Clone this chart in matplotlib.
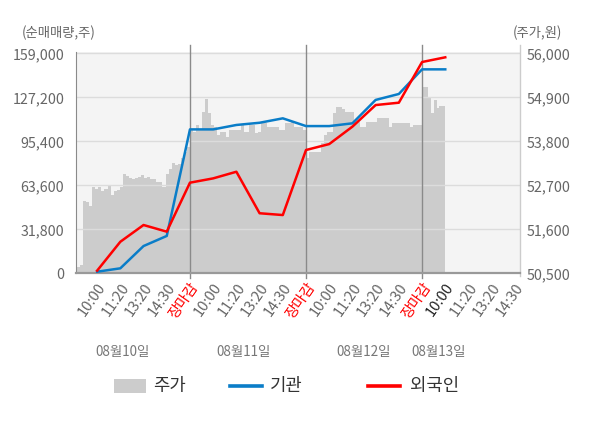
import numpy as np
import matplotlib
matplotlib.use("Agg")
import matplotlib.pyplot as plt
from matplotlib.patches import Rectangle
from matplotlib.lines import Line2D

plt.rcParams['font.family'] = ['Noto Sans CJK KR', 'DejaVu Sans']

# 시간 슬롯 라벨 (4일치)
slot_labels = ['10:00', '11:20', '13:20', '14:30', '장마감'] * 3 + ['10:00', '11:20', '13:20', '14:30']
day_labels = ['08월10일', '08월11일', '08월12일', '08월13일']
day_label_pos = [2.1, 7.3, 12.5, 15.7]

# 순매매량 누적 (주)
inst = [1150, 3600, 19700, 27000, 104000, 104000, 107200, 108800, 112000, 106400,
        106400, 108400, 125300, 129600, 147400, 147400]
foreign = [1900, 22800, 34900, 30100, 65500, 68600, 73400, 43400, 42100, 89100,
           93400, 106000, 121600, 123300, 152700, 156100]

# 주가 (원), 일자별 장중 흐름
price_d1 = [51330, 50665, 50700, 52300, 52290, 52180, 52665, 52620, 52660, 52560,
            52620, 52700, 52470, 52560, 52580, 52660, 52975, 52940, 52880, 52850,
            52880, 52900, 52960, 52880, 52900, 52860, 52850, 52790, 52790, 52665,
            52980, 53100, 53250, 53210, 53230, 53375, 53540, 53665]
price_d2 = [54080, 54040, 54210, 54080, 54540, 54855, 54500, 54210, 54150, 53960,
            54040, 54040, 53900, 54080, 54080, 54080, 54080, 54210, 54040, 54040,
            54210, 54210, 54000, 54040, 54250, 54250, 54165, 54165, 54165, 54165,
            54080, 54080, 54250, 54250, 54290, 54165, 54165, 54165, 54080]
price_d3 = [53375, 53540, 53540, 53540, 53540, 53750, 53960, 54040, 54040, 54500,
            54665, 54665, 54600, 54540, 54540, 54540, 54290, 54290, 54165, 54165,
            54290, 54290, 54290, 54290, 54375, 54375, 54375, 54375, 54165, 54265,
            54265, 54265, 54265, 54265, 54265, 54165, 54210, 54210, 54210]
price_d4 = [55165, 55165, 54915, 54500, 54830, 54625, 54680, 54680]

left_ticks = [0, 31800, 63600, 95400, 127200, 159000]
right_ticks = [50500, 51600, 52700, 53800, 54900, 56000]

fig = plt.figure(figsize=(6, 4.28), dpi=100)
ax2 = fig.add_axes([76 / 600, 1 - 273.3 / 428, 444 / 600, 221.6 / 428])
ax = ax2.twinx()
ax.yaxis.tick_left()
ax2.yaxis.tick_right()
ax.set_zorder(ax2.get_zorder() + 1)
ax.patch.set_visible(False)
ax2.set_facecolor('#f4f4f4')

xlim = (0.09, 19.22)

# 주가 영역
px, py = [], []
for d, vals in enumerate([price_d1, price_d2, price_d3]):
    px.extend(np.linspace(5 * d, 5 * d + 5, len(vals), endpoint=False))
    py.extend(vals)
px.extend(np.linspace(15, 16, len(price_d4), endpoint=False))
py.extend(price_d4)
px.append(16)
py.append(price_d4[-1])
px = np.array(px)
px[0] = xlim[0]
ax2.fill_between(px, py, 50500, step='post', color='#cccccc', lw=0)
ax2.set_ylim(50500, 50500 + 5500 * 221.6 / 220)
ax2.set_yticks(right_ticks)
ax2.set_yticklabels([f'{v:,}' for v in right_ticks])

# 순매매량 선
xs = np.arange(1, len(inst) + 1)
ax.plot(xs, inst, color='#0a7dc8', lw=1.8, zorder=3)
ax.plot(xs, foreign, color='#ff0000', lw=1.8, zorder=4)
ax.set_ylim(0, 159000 * 221.6 / 220)
ax.set_yticks(left_ticks)
ax.set_yticklabels([f'{v:,}' for v in left_ticks])
ax.yaxis.grid(True, color='#dcdcdc', lw=1)
ax.set_axisbelow(True)

for x in [5, 10, 15]:
    ax.axvline(x, ymin=-0.02, ymax=1.03, color='#8a8a8a', lw=1, clip_on=False, zorder=2)
ax.axvline(xlim[1], ymin=-0.01, ymax=1.03, color='#cccccc', lw=1, clip_on=False)

ax.set_xlim(*xlim)
ax2.set_xlim(*xlim)
ax.xaxis.set_visible(True)
ax.xaxis.tick_bottom()
ax.set_xticks(np.arange(1, len(slot_labels) + 1))
ax.set_xticklabels(slot_labels, rotation=55, ha='right', va='top', rotation_mode='anchor')
for i, t in enumerate(ax.get_xticklabels()):
    if slot_labels[i] == '장마감':
        t.set_color('#ff0000')
    elif i == 15:
        t.set_color('#222222')
    else:
        t.set_color('#666666')

for a in (ax, ax2):
    for s in a.spines.values():
        s.set_visible(False)
ax.spines['left'].set_visible(True)
ax.spines['left'].set_color('#8a8a8a')
ax.spines['bottom'].set_visible(True)
ax.spines['bottom'].set_color('#999999')
ax.spines['bottom'].set_linewidth(1.6)

ax.tick_params(axis='x', length=0, pad=5, labelsize=10.5, labelbottom=True)
ax.tick_params(axis='y', length=0, pad=8.5, labelsize=10.3, labelcolor='#666666')
ax2.tick_params(axis='y', length=0, pad=5, labelsize=10.3, labelcolor='#666666')
ax2.tick_params(axis='x', length=0, labelbottom=False)

for lbl, pos in zip(day_labels, day_label_pos):
    ax.text(pos, -0.355, lbl, transform=ax.get_xaxis_transform(), ha='center', va='center',
            fontsize=9.7, color='#777777')

fig.text(22 / 600, 1 - 33 / 428, '(순매매량,주)', ha='left', va='center', fontsize=9.6, color='#666666')
fig.text(562 / 600, 1 - 33 / 428, '(주가,원)', ha='right', va='center', fontsize=9.6, color='#666666')

# 범례
ly = 1 - 386 / 428
fig.add_artist(Rectangle((114 / 600, 1 - 393 / 428), 32 / 600, 14 / 428,
                         transform=fig.transFigure, color='#cccccc', lw=0))
fig.text(153 / 600, ly, '주가', ha='left', va='center', fontsize=12.8, color='#333333')
fig.add_artist(Line2D([230 / 600, 262 / 600], [ly, ly], transform=fig.transFigure,
                      color='#0a7dc8', lw=2.6))
fig.text(270 / 600, ly, '기관', ha='left', va='center', fontsize=12.8, color='#333333')
fig.add_artist(Line2D([368 / 600, 400 / 600], [ly, ly], transform=fig.transFigure,
                      color='#ff0000', lw=2.6))
fig.text(410 / 600, ly, '외국인', ha='left', va='center', fontsize=12.8, color='#333333')

fig.savefig('out.png', dpi=100, facecolor='white')
